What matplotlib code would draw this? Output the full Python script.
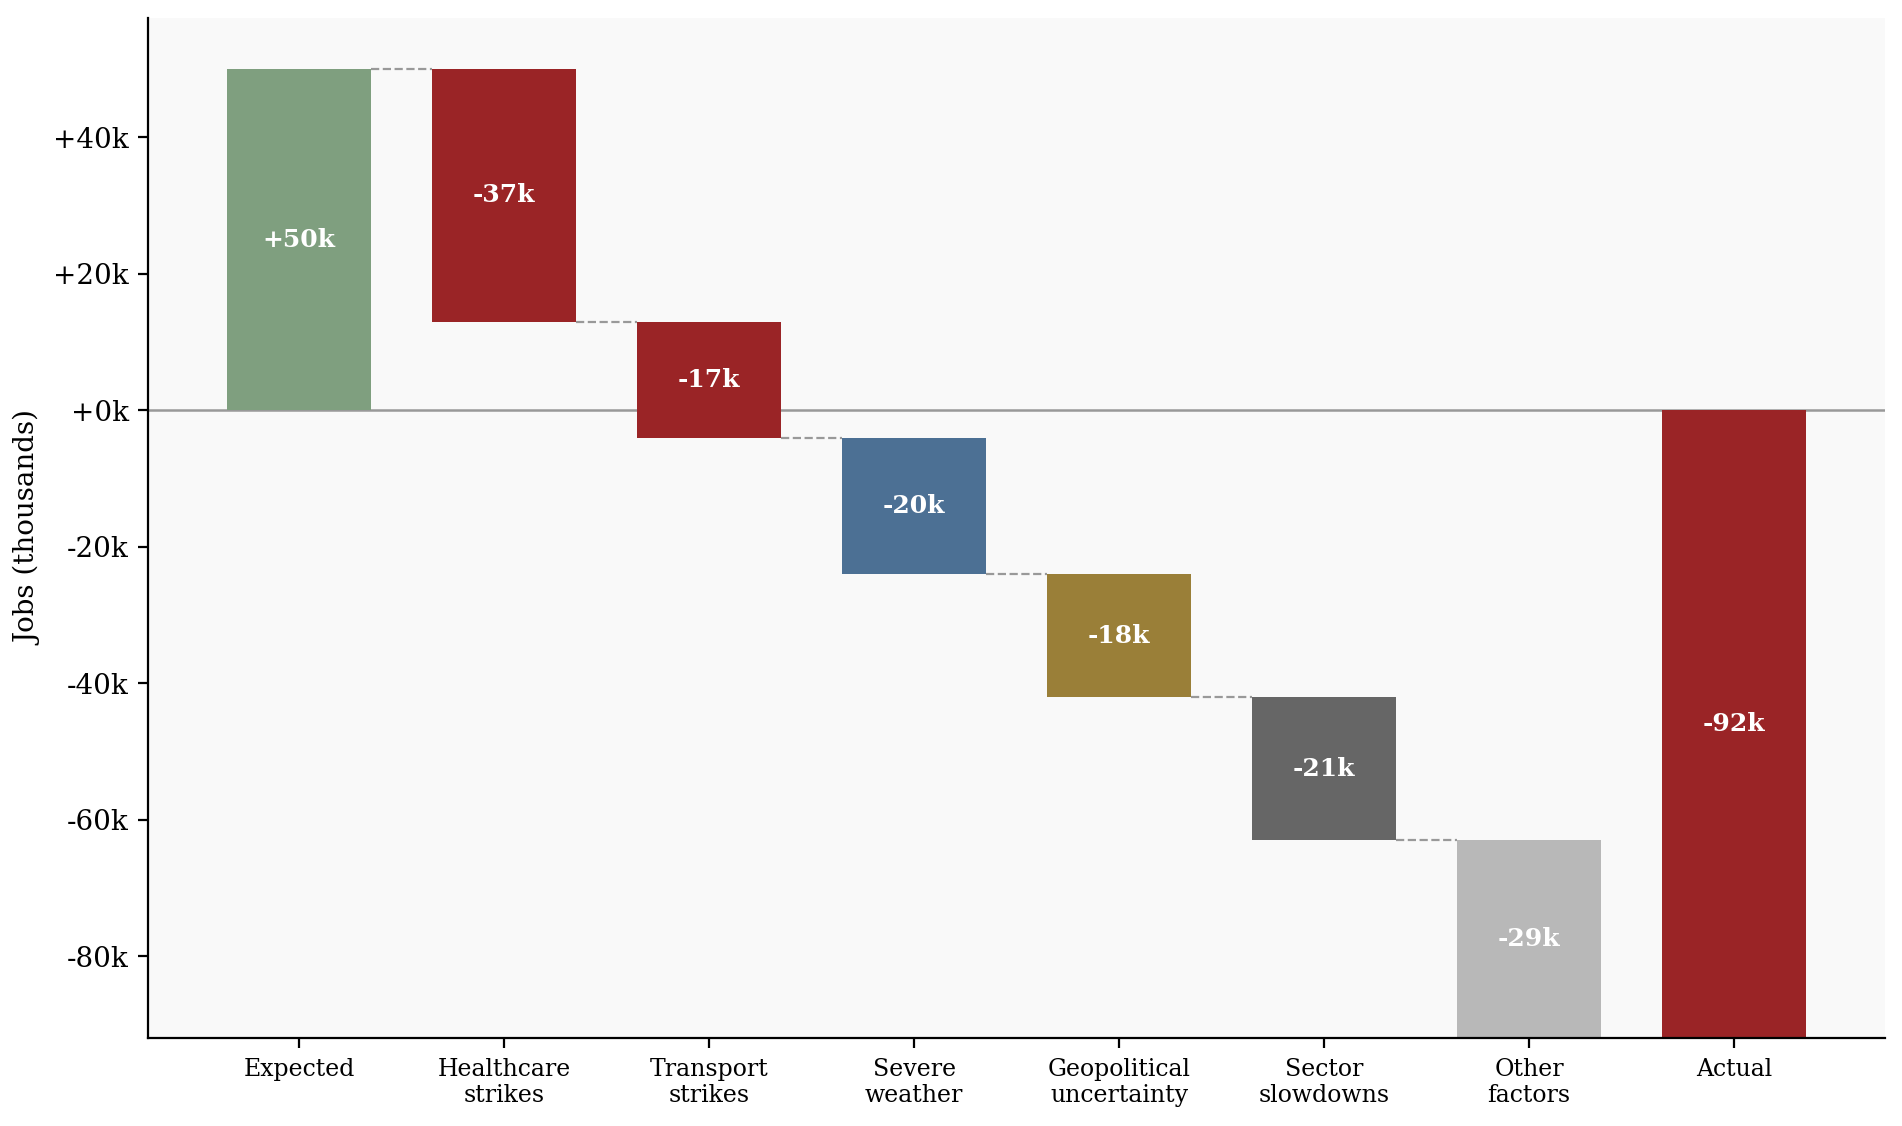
import numpy as np
import matplotlib.pyplot as plt

plt.rcParams['font.family'] = 'DejaVu Serif'

# Waterfall data (thousands of jobs)
categories = ['Expected', 'Healthcare\nstrikes', 'Transport\nstrikes', 'Severe\nweather',
              'Geopolitical\nuncertainty', 'Sector\nslowdowns', 'Other\nfactors', 'Actual']
changes = [50, -37, -17, -20, -18, -21, -29, -92]
colors = ['#7f9f7f', '#9a2426', '#9a2426', '#4c7094', '#9a7f38', '#666666', '#b8b8b8', '#9a2426']

# running totals for floating bars
bottoms = []
heights = []
level = 0
for i, c in enumerate(changes):
    if i == 0 or i == len(changes) - 1:
        bottoms.append(0)
        heights.append(c)
        level = c
    else:
        bottoms.append(level)
        heights.append(c)
        level += c

x = np.arange(len(categories))
width = 0.7

fig, ax = plt.subplots(figsize=(9.51, 5.63), dpi=200)
fig.subplots_adjust(left=0.078, right=0.991, top=0.984, bottom=0.078)
ax.set_facecolor('#f9f9f9')

ax.bar(x, heights, width, bottom=bottoms, color=colors, zorder=2)

# dashed connectors between bars
for i in range(len(changes) - 2):
    y = bottoms[i] + heights[i]
    ax.plot([x[i] + width / 2, x[i + 1] - width / 2], [y, y],
            ls='--', color='#999999', lw=0.8, zorder=1)

ax.axhline(0, color='#999999', lw=0.9, zorder=1)

for i in range(len(changes)):
    mid = bottoms[i] + heights[i] / 2
    ax.text(x[i], mid, f'{changes[i]:+d}k', ha='center', va='center',
            color='white', fontweight='bold', fontsize=9, zorder=3)

ax.set_ylim(-92, 57.5)
yt = [40, 20, 0, -20, -40, -60, -80]
ax.set_yticks(yt)
ax.set_yticklabels([f'+{v}k' if v >= 0 else f'{v}k' for v in yt], fontsize=10)
ax.set_xticks(x)
ax.set_xticklabels(categories, fontsize=8.5)
ax.set_ylabel('Jobs (thousands)', fontsize=10)
ax.spines['top'].set_visible(False)
ax.spines['right'].set_visible(False)

plt.savefig('out.png')
